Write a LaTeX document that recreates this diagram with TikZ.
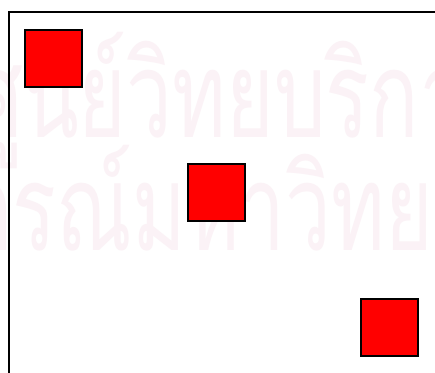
\documentclass[tikz,border=0pt]{standalone}
\usepackage{fontspec}
\newfontfamily\thaifont[Script=Thai,FakeStretch=0.68]{Loma}
\definecolor{wmark}{RGB}{251,242,246}
\definecolor{sqred}{RGB}{255,0,0}
\tikzset{
  redsq/.style={draw=black, line width=1.6pt, fill=sqred, minimum size=57pt, inner sep=0pt, outer sep=0pt},
  wm/.style={text=wmark, font=\thaifont\fontsize{120}{120}\selectfont, inner sep=0pt, anchor=base west},
  framel/.style={line width=2pt, black}
}
\begin{document}
\begin{tikzpicture}[x=1pt,y=1pt]
\useasboundingbox (0,0) rectangle (435,372);
\fill[white] (0,0) rectangle (435,372);
\begin{scope}
\clip (0,0) rectangle (435,372);
\node[wm] (wm1) at (-29,234) {ศูนย์วิทยบริการ};
\node[wm] (wm2) at (-276,122) {จุฬาลงกรณ์มหาวิทยาลัย};
\coordinate (ftl) at (9,360);
\coordinate (ftr) at (440,360);
\coordinate (fbl) at (9,-5);
\draw[framel] (ftr) -- (ftl) -- (fbl);
\end{scope}
\node[redsq] (s1) at (53.5,313.5) {};
\node[redsq] (s2) at (216.5,179.5) {};
\node[redsq] (s3) at (389.5,44.5) {};
\end{tikzpicture}
\end{document}
